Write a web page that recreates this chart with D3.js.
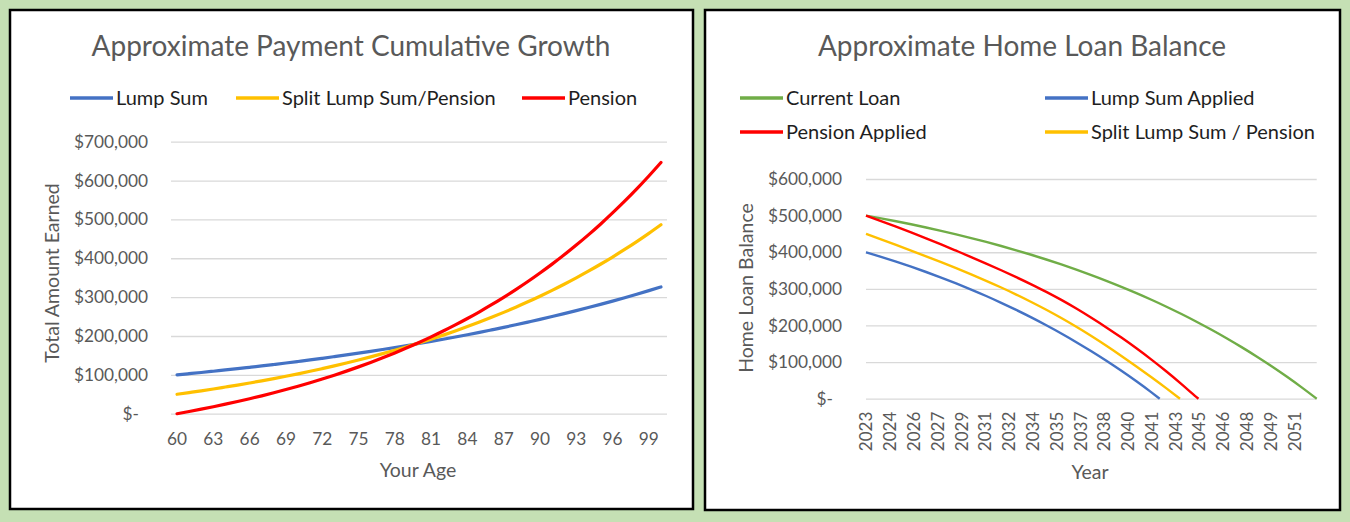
<!DOCTYPE html>
<html>
<head>
<meta charset="utf-8">
<script src="https://cdn.jsdelivr.net/npm/d3@7"></script>
<style>
  html, body { margin: 0; padding: 0; background: #c5e0b4; }
  svg { display: block; }
  text { font-family: Lato, 'Noto Sans', sans-serif; }
  .grid line { stroke: #d9d9d9; stroke-width: 1.3px; }
  .tick text { fill: #595959; }
</style>
</head>
<body>
<svg id="chart" width="1350" height="522"></svg>
<script>
// LEFT CHART DATA - cumulative payment by age
const ages = [60, 61, 62, 63, 64, 65, 66, 67, 68, 69, 70, 71, 72, 73, 74, 75, 76, 77, 78, 79, 80,
  81, 82, 83, 84, 85, 86, 87, 88, 89, 90, 91, 92, 93, 94, 95, 96, 97, 98, 99, 100]
const lumpSum = [100000, 103000, 106100, 109300, 112600, 115900, 119400, 123000, 126700, 130500, 134400,
  138400, 142600, 146900, 151300, 155800, 160500, 165300, 170200, 175400, 180600, 186000, 191600, 197400,
  203300, 209400, 215700, 222100, 228800, 235700, 242700, 250000, 257500, 265200, 273200, 281400, 289800,
  298500, 307500, 316700, 326200]
const splitLumpSum = [50000, 54400, 58900, 63600, 68600, 73700, 79000, 84500, 90300, 96300, 102600,
  109100, 116000, 123100, 130500, 138200, 146200, 154600, 163300, 172500, 181900, 191800, 202200, 213000,
  224200, 235900, 248100, 260800, 274100, 287900, 302400, 317500, 333200, 349600, 366700, 384600, 403200,
  422700, 443000, 464200, 486300]
const pension = [0, 5700, 11700, 17900, 24500, 31400, 38500, 46000, 53900, 62100, 70800, 79800, 89300,
  99200, 109600, 120500, 131900, 143900, 156400, 169500, 183200, 197600, 212700, 228500, 245000, 262300,
  280400, 299400, 319300, 340100, 362000, 384900, 408800, 433900, 460200, 487700, 516600, 546800, 578500,
  611700, 646400]
const earnedTicks = [0, 100000, 200000, 300000, 400000, 500000, 600000, 700000]

// RIGHT CHART DATA - loan balance, sampled once a year from 2023
const loanYears = [0, 1, 2, 3, 4, 5, 6, 7, 8, 9, 10, 11, 12, 13, 14, 15, 16, 17, 18, 19, 20,
  21, 22, 23, 24, 25, 26, 27, 28, 29, 30]
const currentLoan = [500000, 492500, 484600, 476300, 467600, 458400, 448800, 438700, 428100, 417000,
  405300, 393100, 380200, 366700, 352500, 337600, 322000, 305500, 288300, 270200, 251200, 231200, 210200,
  188200, 165100, 140800, 115300, 88600, 60500, 31000, 0]
const lumpSumApplied = [400000, 387500, 374300, 360500, 346000, 330800, 314800, 298000, 280400, 261800,
  242400, 222000, 200500, 178100, 154400, 129600, 103600, 76200, 47500, 17300]
const pensionApplied = [500000, 485000, 469700, 454000, 437900, 421300, 404200, 386900, 369100, 350800,
  331900, 312300, 291800, 269800, 246200, 221000, 194700, 166900, 137600, 106700, 74200, 40000, 4400]
const splitApplied = [450000, 435000, 419800, 404400, 388700, 372700, 356300, 339400, 321900, 303600,
  284400, 264200, 242900, 220300, 196400, 171200, 144600, 116800, 88000, 58400, 28100]
// year (from start) at which each balance reaches zero
const payoffYears = [30, 19.55, 22.13, 20.9]
const balanceTicks = [0, 100000, 200000, 300000, 400000, 500000, 600000]
const yearLabels = ['2023', '2024', '2026', '2027', '2029', '2031', '2032', '2034', '2035', '2037',
  '2038', '2040', '2041', '2043', '2045', '2046', '2048', '2049', '2051']
const labelStepMonths = 19

const BLUE = '#4472c4'
const YELLOW = '#ffc000'
const RED = '#ff0000'
const GREEN = '#70ad47'

const money = d => d === 0 ? '$-' : '$' + d3.format(',')(d)

const svg = d3.select('#chart')
svg.append('rect').attr('width', 1350).attr('height', 522).attr('fill', '#c5e0b4')

// PANELS
const panel = (x, y, w, h) => svg.append('rect')
  .attr('x', x).attr('y', y).attr('width', w).attr('height', h)
  .attr('fill', '#fff').attr('stroke', '#000').attr('stroke-width', 2.5)
panel(10, 10, 683, 499)
panel(705, 10, 635, 500)

const title = (x, y, txt) => svg.append('text')
  .attr('x', x).attr('y', y).attr('dy', '0.35em')
  .attr('text-anchor', 'middle')
  .style('font-size', '28px').style('fill', '#595959')
  .text(txt)

const legend = (items) => {
  const g = svg.append('g')
  items.forEach(it => {
    g.append('line')
      .attr('x1', it.x).attr('x2', it.x + 43).attr('y1', it.y).attr('y2', it.y)
      .attr('stroke', it.color).attr('stroke-width', 3.5)
    g.append('text')
      .attr('x', it.x + 46).attr('y', it.y).attr('dy', '0.35em')
      .style('font-size', '20px').style('fill', '#1e1e1e')
      .text(it.label)
  })
}

const axisTitle = (x, y, txt, rotate) => svg.append('text')
  .attr('transform', `translate(${x},${y})` + (rotate ? ' rotate(-90)' : ''))
  .attr('dy', '0.35em').attr('text-anchor', 'middle')
  .style('font-size', '19.5px').style('fill', '#595959')
  .text(txt)

// ---------------- LEFT: Approximate Payment Cumulative Growth
title(351, 46, 'Approximate Payment Cumulative Growth')
legend([
  { label: 'Lump Sum', color: BLUE, x: 70, y: 98 },
  { label: 'Split Lump Sum/Pension', color: YELLOW, x: 236, y: 98 },
  { label: 'Pension', color: RED, x: 522, y: 98 },
])

const lx = d3.scaleBand().domain(ages).range([171, 667])
const ly = d3.scaleLinear().domain([0, 700000]).range([413.7, 141.7])
const lcx = a => lx(a) + lx.bandwidth() / 2

const lyAxis = svg.append('g')
  .attr('class', 'grid')
  .attr('transform', 'translate(171,0)')
  .call(d3.axisLeft(ly).tickValues(earnedTicks).tickSize(-496).tickPadding(23).tickFormat(money))
lyAxis.select('.domain').remove()
lyAxis.selectAll('text').style('font-size', '17.3px').attr('dx', d => d === 0 ? -9 : 0)

const lxAxis = svg.append('g')
  .attr('transform', 'translate(0,413.7)')
  .call(d3.axisBottom(lx).tickValues(ages.filter((d, i) => i % 3 === 0)).tickSize(0))
lxAxis.select('.domain').remove()
lxAxis.selectAll('text').attr('y', 25.5).attr('dy', '0.35em').style('font-size', '17.3px')

axisTitle(418, 470, 'Your Age', false)
axisTitle(52, 273, 'Total Amount Earned', true)

const leftLine = d3.line().x((d, i) => lcx(ages[i])).y(d => ly(d)).curve(d3.curveMonotoneX)
;[[lumpSum, BLUE], [splitLumpSum, YELLOW], [pension, RED]].forEach(([vals, color]) => {
  svg.append('path')
    .attr('d', leftLine(vals))
    .attr('fill', 'none').attr('stroke', color)
    .attr('stroke-width', 3.2).attr('stroke-linecap', 'round').attr('stroke-linejoin', 'round')
})

// ---------------- RIGHT: Approximate Home Loan Balance
title(1022, 46, 'Approximate Home Loan Balance')
legend([
  { label: 'Current Loan', color: GREEN, x: 740, y: 98 },
  { label: 'Lump Sum Applied', color: BLUE, x: 1045, y: 98 },
  { label: 'Pension Applied', color: RED, x: 740, y: 132 },
  { label: 'Split Lump Sum / Pension', color: YELLOW, x: 1045, y: 132 },
])

const rx = d3.scaleLinear().domain([0, 30]).range([866, 1316.7])
const ry = d3.scaleLinear().domain([0, 600000]).range([398.7, 179])

const ryAxis = svg.append('g')
  .attr('class', 'grid')
  .attr('transform', 'translate(866,0)')
  .call(d3.axisLeft(ry).tickValues(balanceTicks).tickSize(-450.7).tickPadding(24).tickFormat(money))
ryAxis.select('.domain').remove()
ryAxis.selectAll('text').style('font-size', '17.3px').attr('dx', d => d === 0 ? -9 : 0)

const tickYears = yearLabels.map((_, i) => i * labelStepMonths / 12)
const rxAxis = svg.append('g')
  .attr('transform', 'translate(0,398.7)')
  .call(d3.axisBottom(rx).tickValues(tickYears).tickSize(0).tickFormat((d, i) => yearLabels[i]))
rxAxis.select('.domain').remove()
rxAxis.selectAll('text')
  .attr('y', 0).attr('x', -13).attr('dy', '0.35em')
  .attr('transform', 'rotate(-90)')
  .style('text-anchor', 'end').style('font-size', '17px')

axisTitle(1090, 472, 'Year', false)
axisTitle(746, 288, 'Home Loan Balance', true)

const rightLine = d3.line().x(d => rx(d[0])).y(d => ry(d[1])).curve(d3.curveMonotoneX)
;[[currentLoan, GREEN], [lumpSumApplied, BLUE], [pensionApplied, RED], [splitApplied, YELLOW]]
  .forEach(([vals, color], si) => {
    const pts = vals.map((v, i) => [loanYears[i], v]).filter(d => d[0] < payoffYears[si])
    pts.push([payoffYears[si], 0])
    svg.append('path')
      .attr('d', rightLine(pts))
      .attr('fill', 'none').attr('stroke', color)
      .attr('stroke-width', 2.4).attr('stroke-linejoin', 'round')
  })
</script>
</body>
</html>
